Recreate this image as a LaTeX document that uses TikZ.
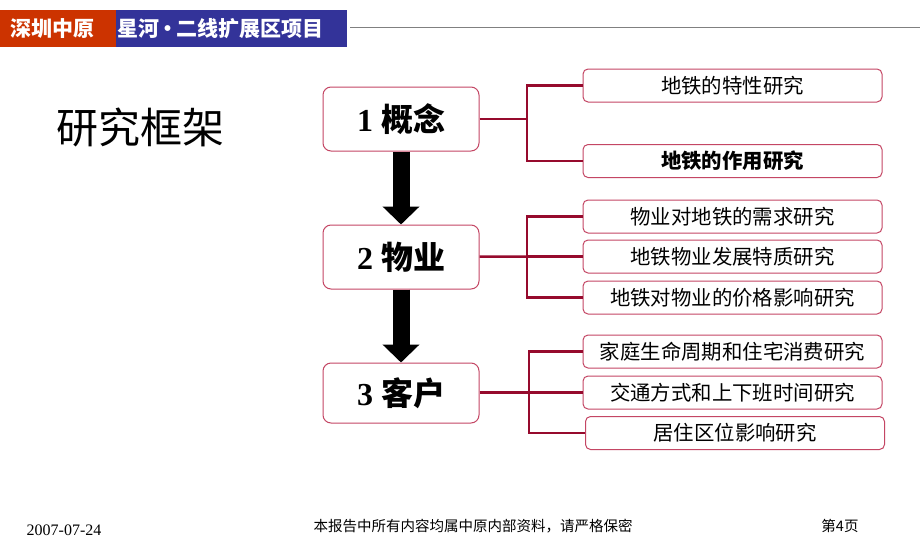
\documentclass[tikz,border=0pt]{standalone}
\usepackage{fontspec}
\setmainfont{Liberation Serif}
\newfontfamily\cjk{Noto Sans CJK SC}
\usepackage{tikz}
\usetikzlibrary{arrows.meta}
\definecolor{HeadRed}{RGB}{204,51,0}
\definecolor{HeadBlue}{RGB}{51,51,153}
\definecolor{LinkRed}{RGB}{150,10,45}
\definecolor{BoxRed}{RGB}{196,70,100}
\tikzset{
  stage/.style={draw=BoxRed, line width=1pt, rounded corners=8pt, minimum width=156pt, minimum height=64pt, font=\fontsize{32}{36}\selectfont\bfseries},
  topic/.style={draw=BoxRed, line width=1pt, rounded corners=5pt, minimum width=299pt, minimum height=33pt, inner sep=0pt, font=\fontsize{20.4}{24}\selectfont\cjk},
  link/.style={draw=LinkRed, line width=2.5pt},
  flow/.style={draw=black, line width=17pt, -{Triangle[width=36pt, length=18pt]}},
  headtext/.style={white, anchor=west, inner sep=0pt, font=\fontsize{21}{24}\selectfont\cjk\bfseries},
  foot/.style={black, inner sep=0pt, font=\fontsize{14.5}{16}\selectfont\cjk}
}
\begin{document}
\begin{tikzpicture}[x=1pt, y=-1pt]
  \useasboundingbox[fill=white] (0,0) rectangle (920,546);
  % header bar
  \fill[HeadRed] (0,10) rectangle (116,47);
  \fill[HeadBlue] (116,10) rectangle (347,47);
  \draw[gray, line width=1pt] (350,27) -- (920,27);
  \node[headtext] (brand) at (10,28.5) {深圳中原};
  \node[headtext] (project) at (117,28.5) {星河{\kern-2pt}·{\kern-2pt}二线扩展区项目};
  \node[anchor=center, inner sep=0pt, font=\fontsize{42}{46}\selectfont\cjk] (title) at (140,127) {研究框架};
  % stages
  \node[stage] (concept) at (401,119) {1 {\cjk 概念}};
  \node[stage] (estate) at (401,257) {2 {\cjk 物业}};
  \node[stage, minimum height=60pt] (client) at (401,393) {3 {\cjk 客户}};
  \draw[flow] (concept) -- (estate);
  \draw[flow] (estate) -- (client);
  % topics
  \node[topic] (subA) at (732.5,85.5) {地铁的特性研究};
  \node[topic, font=\fontsize{20.4}{24}\selectfont\cjk\bfseries] (subB) at (732.5,161) {地铁的作用研究};
  \node[topic] (subC) at (732.5,216.5) {物业对地铁的需求研究};
  \node[topic] (subD) at (732.5,256.5) {地铁物业发展特质研究};
  \node[topic] (subE) at (732.5,297.5) {地铁对物业的价格影响研究};
  \node[topic] (subF) at (732.5,351.5) {家庭生命周期和住宅消费研究};
  \node[topic] (subG) at (732.5,392.5) {交通方式和上下班时间研究};
  \node[topic] (subH) at (735,433) {居住区位影响研究};
  \coordinate (forkA) at (527,119);
  \coordinate (forkB) at (527,256.5);
  \coordinate (forkC) at (529,392.5);
  \draw[link] (concept) -- (forkA);
  \draw[link] (forkA) |- (subA);
  \draw[link] (forkA) |- (subB);
  \draw[link] (estate) -- (forkB);
  \draw[link] (forkB) |- (subC);
  \draw[link] (forkB) -- (subD);
  \draw[link] (forkB) |- (subE);
  \draw[link] (client.east |- forkC) -- (forkC);
  \draw[link] (forkC) |- (subF);
  \draw[link] (forkC) -- (subG);
  \draw[link] (forkC) |- (subH);
  % footer
  \node[foot, font=\fontsize{16}{18}\selectfont] (date) at (64,530) {2007-07-24};
  \node[foot] (note) at (473,526) {本报告中所有内容均属中原内部资料，请严格保密};
  \node[foot] (page) at (840,526) {第4页};
\end{tikzpicture}
\end{document}
